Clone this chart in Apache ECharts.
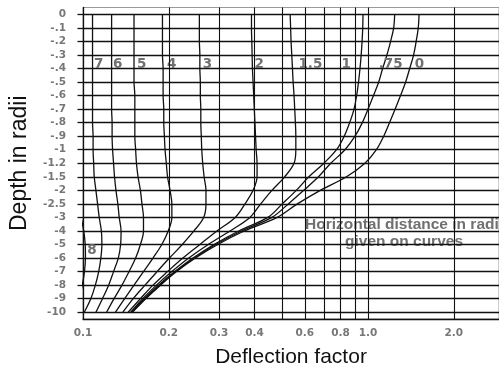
<!DOCTYPE html>
<html>
<head>
<meta charset="utf-8">
<script src="https://cdn.jsdelivr.net/npm/echarts@6/dist/echarts.min.js"></script>
<style>
  html, body { margin: 0; padding: 0; background: #fff; }
  #chart { width: 499px; height: 373px; }
</style>
</head>
<body>
<div id="chart"></div>
<script>
// Depth below the surface, in radii (category rows, top to bottom)
const depthLabels = ['0', '-.1', '-.2', '-.3', '-.4', '-.5', '-.6', '-.7', '-.8', '-.9', '-1',
  '-1.2', '-1.5', '-2', '-2.5', '-3', '-4', '-5', '-6', '-7', '-8', '-9', '-10'];

// Deflection-factor axis: labelled values and vertical grid values
const xLabelValues = [0.1, 0.2, 0.3, 0.4, 0.6, 0.8, 1.0, 2.0];
const xGridValues = [0.2, 0.3, 0.4, 0.5, 0.6, 0.7, 0.8, 0.9, 1.0, 2.0];

// Deflection factor at each depth, one list per horizontal distance (radii)
const r0   = [1.51, 1.50, 1.475, 1.445, 1.40, 1.355, 1.30, 1.245, 1.19, 1.135, 1.07, 0.975, 0.84, 0.68, 0.565, 0.48, 0.368, 0.297, 0.248, 0.213, 0.187, 0.166, 0.149];
const r075 = [1.24, 1.23, 1.20, 1.165, 1.125, 1.09, 1.045, 1.00, 0.955, 0.90, 0.83, 0.74, 0.67, 0.595, 0.525, 0.46, 0.36, 0.292, 0.246, 0.211, 0.186, 0.165, 0.148];
const r1   = [0.96, 0.958, 0.953, 0.946, 0.937, 0.926, 0.912, 0.893, 0.862, 0.825, 0.775, 0.70, 0.62, 0.56, 0.50, 0.445, 0.352, 0.288, 0.243, 0.21, 0.184, 0.164, 0.148];
const r15  = [0.533, 0.535, 0.537, 0.54, 0.543, 0.546, 0.55, 0.553, 0.556, 0.558, 0.558, 0.55, 0.51, 0.46, 0.42, 0.385, 0.328, 0.275, 0.235, 0.205, 0.181, 0.162, 0.147];
const r2   = [0.39, 0.39, 0.391, 0.392, 0.393, 0.395, 0.397, 0.399, 0.401, 0.403, 0.405, 0.408, 0.408, 0.395, 0.37, 0.342, 0.295, 0.257, 0.224, 0.198, 0.176, 0.159, 0.144];
const r3   = [0.256, 0.256, 0.256, 0.257, 0.257, 0.258, 0.258, 0.259, 0.259, 0.26, 0.261, 0.263, 0.266, 0.27, 0.27, 0.265, 0.245, 0.223, 0.201, 0.182, 0.165, 0.150, 0.138];
const r4   = [0.19, 0.19, 0.19, 0.19, 0.191, 0.191, 0.191, 0.192, 0.192, 0.193, 0.194, 0.196, 0.198, 0.202, 0.205, 0.205, 0.199, 0.189, 0.176, 0.163, 0.151, 0.140, 0.130];
const r5   = [0.151, 0.151, 0.151, 0.151, 0.151, 0.151, 0.152, 0.152, 0.152, 0.152, 0.153, 0.154, 0.156, 0.159, 0.161, 0.163, 0.163, 0.159, 0.153, 0.145, 0.137, 0.1285, 0.121];
const r6   = [0.126, 0.126, 0.126, 0.126, 0.126, 0.126, 0.126, 0.126, 0.1265, 0.1265, 0.127, 0.128, 0.129, 0.1305, 0.1325, 0.134, 0.136, 0.1355, 0.133, 0.128, 0.123, 0.117, 0.111];
const r7   = [0.108, 0.108, 0.108, 0.108, 0.108, 0.108, 0.108, 0.108, 0.108, 0.1085, 0.1085, 0.109, 0.1095, 0.111, 0.1125, 0.114, 0.116, 0.1165, 0.1155, 0.1135, 0.1105, 0.1065, 0.101];
const r8   = [0.094, 0.094, 0.094, 0.094, 0.094, 0.094, 0.094, 0.094, 0.094, 0.094, 0.0945, 0.095, 0.0955, 0.0965, 0.0975, 0.0986, 0.1006, 0.1018, 0.102, 0.1012, 0.0994, 0.097, 0.094];

// Curve captions: which row they sit on and which side of the curve
const curves = [
  { name: '0',   values: r0,   row: '-.4', side: 'right', dist: 5,   dy: -4 },
  { name: '.75', values: r075, row: '-.4', side: 'right', dist: -4,  dy: -4 },
  { name: '1',   values: r1,   row: '-.4', side: 'left',  dist: 9,   dy: -4 },
  { name: '1.5', values: r15,  row: '-.4', side: 'right', dist: 6,   dy: -4 },
  { name: '2',   values: r2,   row: '-.4', side: 'right', dist: 2,   dy: -4 },
  { name: '3',   values: r3,   row: '-.4', side: 'right', dist: 3,   dy: -4 },
  { name: '4',   values: r4,   row: '-.4', side: 'right', dist: 4,   dy: -4 },
  { name: '5',   values: r5,   row: '-.4', side: 'right', dist: 3,   dy: -4 },
  { name: '6',   values: r6,   row: '-.4', side: 'right', dist: 1.5, dy: -4 },
  { name: '7',   values: r7,   row: '-.4', side: 'right', dist: 1.5, dy: -4 },
  { name: '8',   values: r8,   row: '-5',  side: 'right', dist: 2,   dy: 6 }
];

const ink = '#111';
const grayText = '#707070';
const captionStyle = { color: grayText, fontFamily: 'DejaVu Sans', fontWeight: 'bold', fontSize: 13.5 };

const series = curves.map((c, k) => {
  const s = {
    type: 'line',
    name: c.name,
    smooth: 0.35,
    symbol: 'circle',
    symbolSize: 0,
    showSymbol: true,
    showAllSymbol: true,
    clip: true,
    silent: true,
    z: 3,
    lineStyle: { color: ink, width: 1.3 },
    itemStyle: { color: ink },
    data: c.values.map((v, i) => {
      const item = { value: [v, depthLabels[i]] };
      if (depthLabels[i] === c.row) {
        item.label = Object.assign({
          show: true,
          formatter: c.name,
          position: c.side,
          distance: c.dist,
          offset: [0, c.dy]
        }, captionStyle);
      }
      return item;
    })
  };
  if (k === 0) {
    // vertical grid lines at the deflection-factor values
    s.markLine = {
      silent: true,
      symbol: 'none',
      label: { show: false },
      lineStyle: { color: ink, width: 1.1, type: 'solid' },
      animation: false,
      data: xGridValues.map(v => ({ xAxis: v }))
    };
  }
  return s;
});

const chart = echarts.init(document.getElementById('chart'), null, { renderer: 'canvas' });
chart.setOption({
  animation: false,
  backgroundColor: '#fff',
  grid: {
    left: 82.7, right: -2, top: 7.5, bottom: 54,
    show: true, borderColor: '#9a9a9a', borderWidth: 1
  },
  xAxis: {
    type: 'log',
    logBase: 10,
    min: 0.1,
    max: 2.88,
    axisLine: { show: true, lineStyle: { color: ink, width: 1.3 } },
    axisTick: { show: false },
    axisLabel: {
      customValues: xLabelValues,
      formatter: v => Number(v).toFixed(1),
      color: '#777', fontFamily: 'DejaVu Sans', fontWeight: 'bold', fontSize: 10.5, margin: 9
    },
    splitLine: { show: false },
    name: 'Deflection factor',
    nameLocation: 'middle',
    nameGap: 28,
    nameTextStyle: { color: ink, fontFamily: 'Liberation Sans', fontSize: 21 }
  },
  yAxis: {
    type: 'category',
    inverse: true,
    boundaryGap: true,
    data: depthLabels,
    axisLine: { show: true, lineStyle: { color: ink, width: 1.3 } },
    axisTick: { show: true, interval: 0, alignWithLabel: true, length: 5.5, lineStyle: { color: ink, width: 1.3 } },
    axisLabel: { interval: 0, color: '#777', fontFamily: 'DejaVu Sans', fontWeight: 'bold', fontSize: 10.5, margin: 17 },
    splitLine: { show: true, interval: 0, alignWithLabel: true, lineStyle: { color: ink, width: 1.3 } },
    name: 'Depth in radii',
    nameLocation: 'middle',
    nameGap: 52,
    nameRotate: 90,
    nameTextStyle: { color: ink, fontFamily: 'Liberation Sans', fontSize: 23 }
  },
  graphic: [
    { type: 'text', left: 305, top: 217, silent: true,
      style: { text: 'Horizontal distance in radii', fill: grayText, font: 'bold 15.5px "Liberation Sans"' } },
    { type: 'text', left: 345, top: 234, silent: true,
      style: { text: 'given on curves', fill: grayText, font: 'bold 15.5px "Liberation Sans"' } }
  ],
  series: series
});
</script>
</body>
</html>
